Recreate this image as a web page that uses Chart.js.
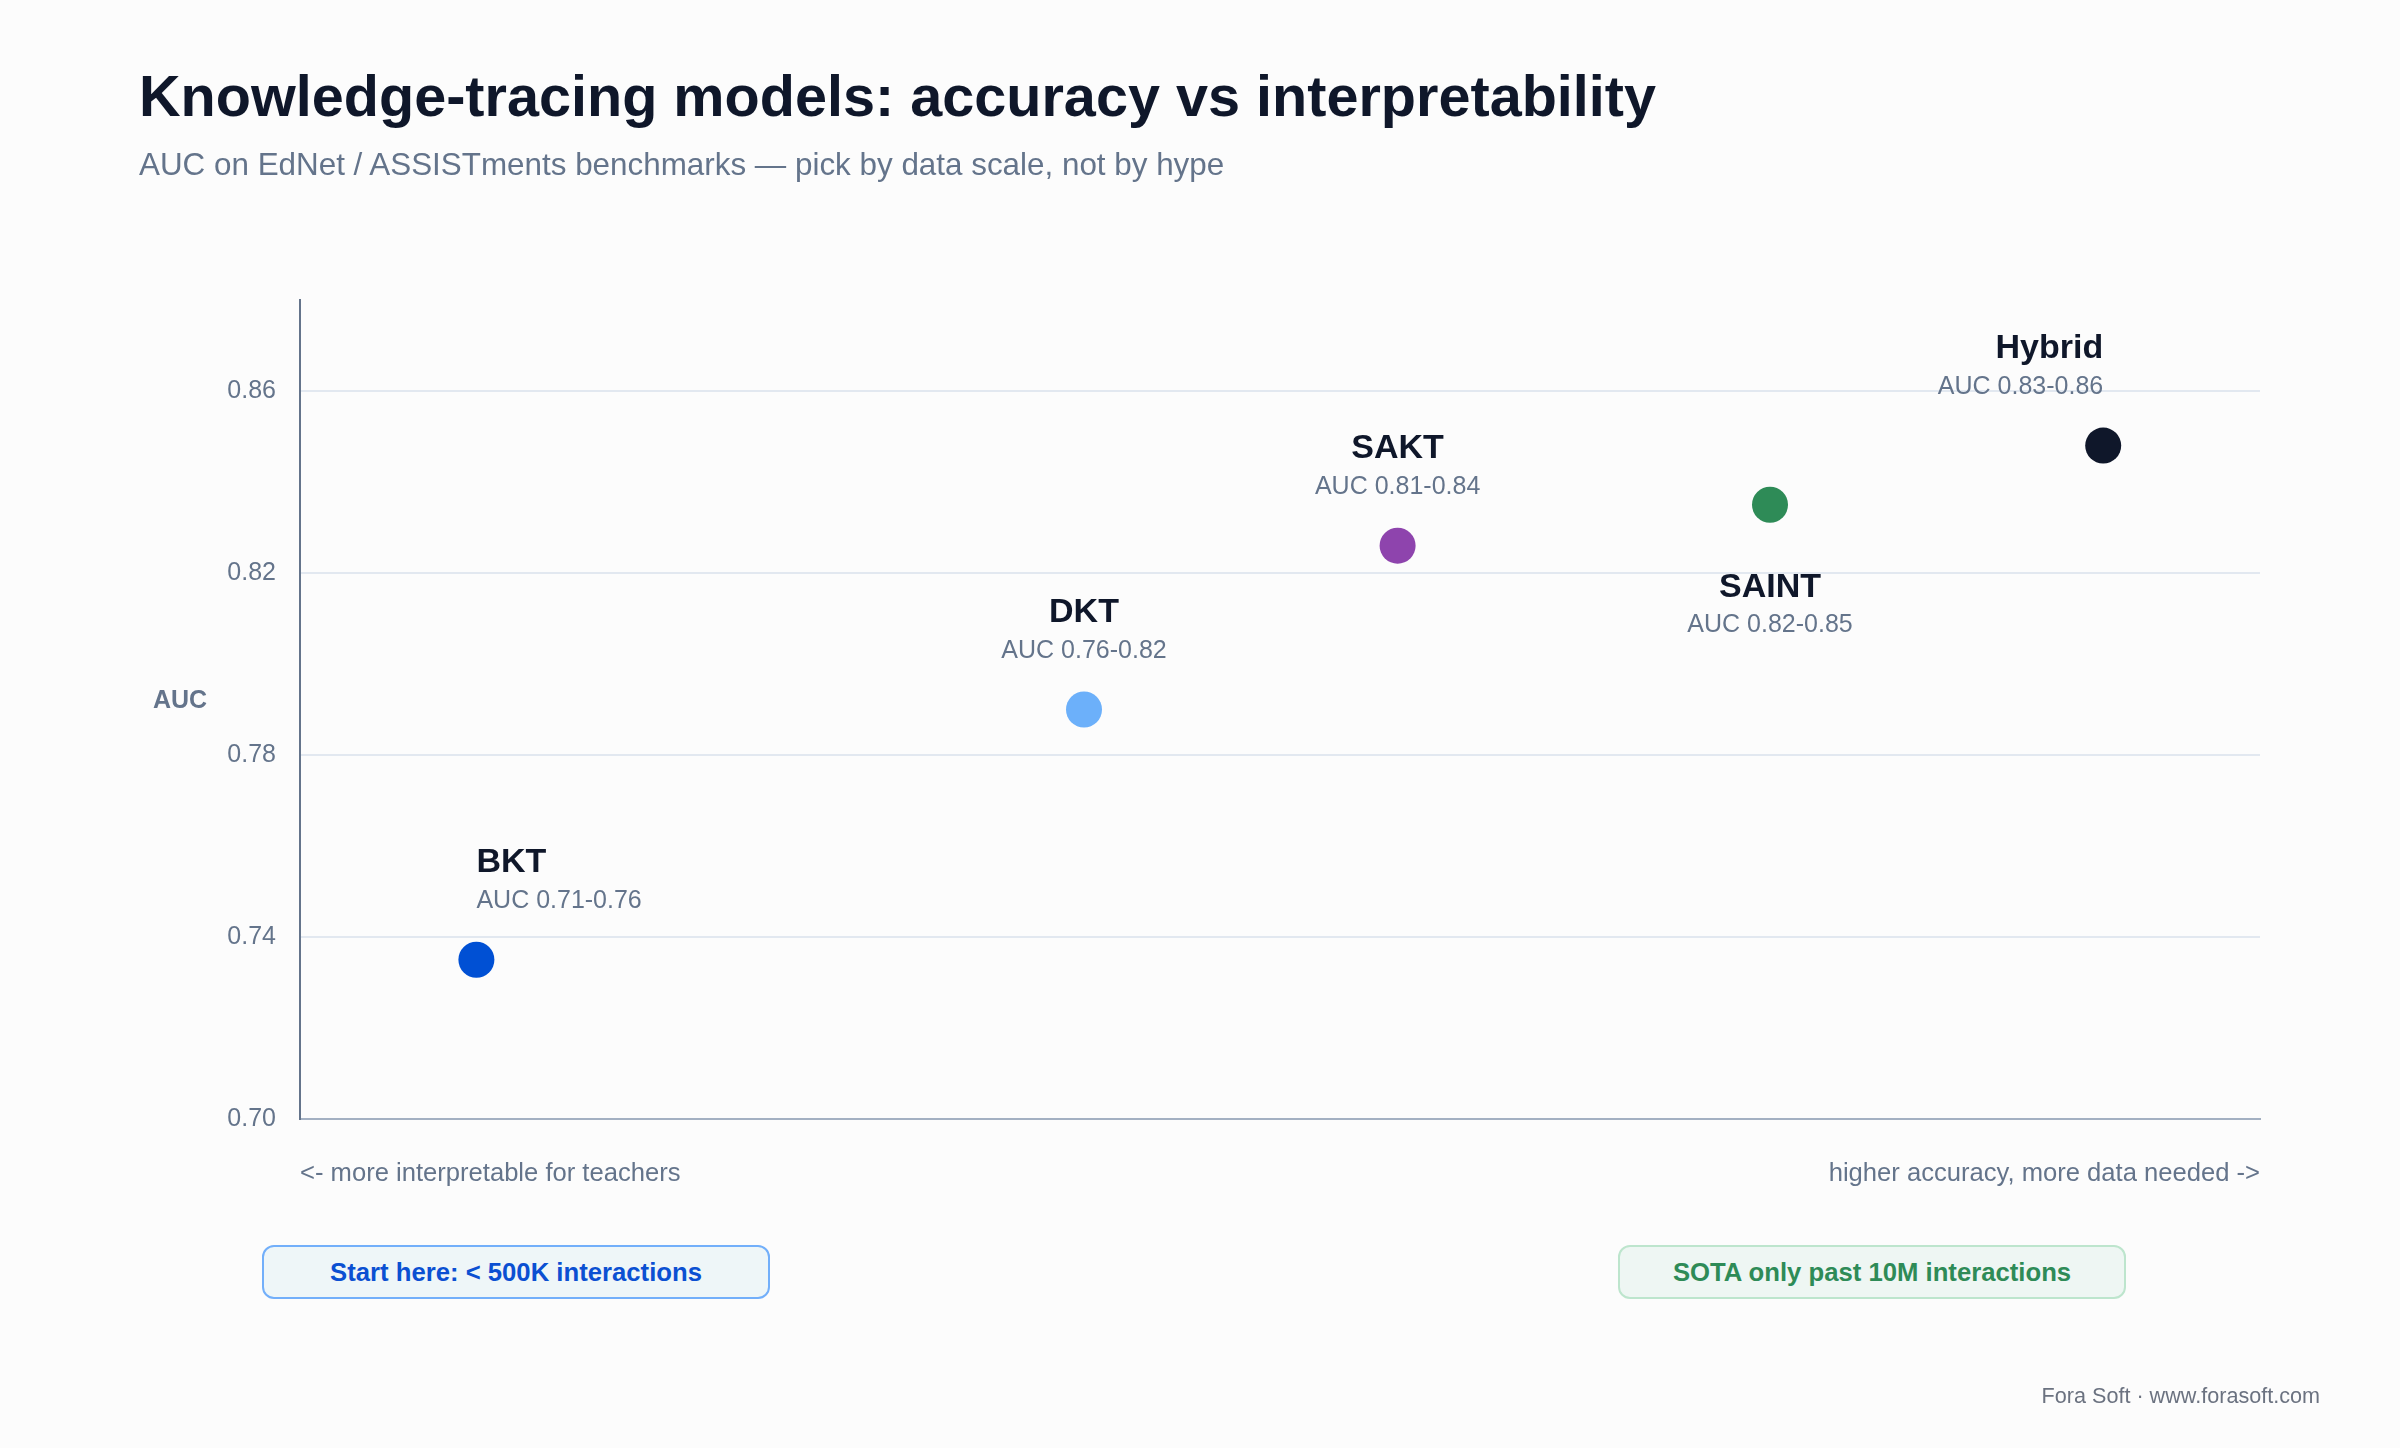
<!DOCTYPE html>
<html>
<head>
<meta charset="utf-8">
<title>Knowledge-tracing models: accuracy vs interpretability</title>
<script src="https://cdn.jsdelivr.net/npm/chart.js@4.4.1/dist/chart.umd.min.js"></script>
<style>
  body { margin: 0; background: #fcfcfc; font-family: "Liberation Sans", Arial, sans-serif; }
  #page { position: relative; width: 2400px; height: 1448px; overflow: hidden; }
  #chart { position: absolute; left: 0; top: 0; }
  .title { position: absolute; left: 139px; top: 68px; margin: 0; font-size: 57.6px; line-height: 1; font-weight: bold; color: #0f172a; white-space: nowrap; }
  .subtitle { position: absolute; left: 139px; top: 149px; margin: 0; font-size: 31.4px; line-height: 1; color: #64748b; white-space: nowrap; }
  .badge { position: absolute; top: 1245px; width: 508px; height: 54px; box-sizing: border-box; border-radius: 12px;
           border: 2px solid; display: flex; align-items: center; justify-content: center; font-size: 25.7px; font-weight: bold; }
  .badge.start { left: 262px; border-color: #72affa; background: #eef6f8; color: #0b50d2; }
  .badge.sota { left: 1618px; border-color: #bde5cd; background: #eef6f3; color: #2e8b57; }
  .footer { position: absolute; right: 80px; top: 1385px; font-size: 21.6px; line-height: 1; color: #6b7280; white-space: nowrap; }
</style>
</head>
<body>
<div id="page">
  <canvas id="chart" width="2400" height="1448"></canvas>
  <h1 class="title">Knowledge-tracing models: accuracy vs interpretability</h1>
  <p class="subtitle">AUC on EdNet / ASSISTments benchmarks — pick by data scale, not by hype</p>
  <div class="badge start">Start here: &lt; 500K interactions</div>
  <div class="badge sota">SOTA only past 10M interactions</div>
  <div class="footer">Fora Soft · www.forasoft.com</div>
</div>
<script>
// Models, left (interpretable) to right (accurate, data hungry)
const models = ["BKT", "DKT", "SAKT", "SAINT", "Hybrid"];
const aucRanges = ["AUC 0.71-0.76", "AUC 0.76-0.82", "AUC 0.81-0.84", "AUC 0.82-0.85", "AUC 0.83-0.86"];
const dataScale = [9, 40, 56, 75, 92];
const auc = [0.735, 0.79, 0.826, 0.835, 0.848];
const yTicks = [0.70, 0.74, 0.78, 0.82, 0.86];
const xEndLabels = ["<- more interpretable for teachers", "higher accuracy, more data needed ->"];

const pointColors = ["#0050d4", "#6cb0fa", "#8e44ad", "#2e8b57", "#0f172a"];
const labelAlign = ["left", "center", "center", "center", "right"];
const labelBelow = [false, false, false, true, false];

Chart.defaults.font.family = '"Liberation Sans", Arial, sans-serif';

// name + AUC range next to each point, and the horizontal "AUC" axis title
const pointLabels = {
  id: "pointLabels",
  afterDatasetsDraw(chart) {
    const ctx = chart.ctx;
    const pts = chart.getDatasetMeta(0).data;
    ctx.save();
    ctx.textBaseline = "alphabetic";
    pts.forEach(function(p, i) {
      const below = labelBelow[i];
      ctx.textAlign = labelAlign[i];
      ctx.fillStyle = "#0f172a";
      ctx.font = 'bold 34px "Liberation Sans", Arial, sans-serif';
      ctx.fillText(models[i], p.x, below ? p.y + 92 : p.y - 88);
      ctx.fillStyle = "#64748b";
      ctx.font = '25px "Liberation Sans", Arial, sans-serif';
      ctx.fillText(aucRanges[i], p.x, below ? p.y + 127 : p.y - 52);
    });
    const area = chart.chartArea;
    ctx.textAlign = "center";
    ctx.textBaseline = "middle";
    ctx.fillStyle = "#64748b";
    ctx.font = 'bold 25px "Liberation Sans", Arial, sans-serif';
    ctx.fillText("AUC", 180, (area.top + area.bottom) / 2 - 8);
    ctx.restore();
  }
};

var ctx = document.getElementById("chart").getContext("2d");
var ktChart = new Chart(ctx, {
  type: "scatter",
  data: {
    datasets: [{
      label: "AUC",
      data: dataScale.map(function(x, i) { return { x: x, y: auc[i] }; }),
      backgroundColor: pointColors,
      borderWidth: 0,
      pointRadius: 18,
      pointHoverRadius: 18
    }]
  },
  options: {
    responsive: false,
    devicePixelRatio: 1,
    animation: false,
    events: [],
    layout: { padding: { top: 300, left: 0, right: 140, bottom: 229 } },
    plugins: {
      legend: { display: false },
      tooltip: { enabled: false }
    },
    scales: {
      x: {
        type: "linear",
        min: 0,
        max: 100,
        afterBuildTicks: function(s) { s.ticks = [{ value: 0 }, { value: 100 }]; },
        afterFit: function(s) { s.height = 100; },
        ticks: {
          align: "inner",
          maxRotation: 0,
          autoSkip: false,
          padding: 40,
          color: "#64748b",
          font: { size: 25.6 },
          callback: function(v, i) { return xEndLabels[i]; }
        },
        grid: { display: false, drawTicks: false },
        border: { display: true, color: "#a3b0c2", width: 2 }
      },
      y: {
        type: "linear",
        min: 0.70,
        max: 0.88,
        afterBuildTicks: function(s) { s.ticks = yTicks.map(function(v) { return { value: v }; }); },
        afterFit: function(s) { s.width = 300; },
        ticks: {
          padding: 24,
          color: "#64748b",
          font: { size: 25 },
          callback: function(v) { return v.toFixed(2); }
        },
        grid: { color: "#e2e8f0", lineWidth: 2, drawTicks: false },
        border: { color: "#64748b", width: 2 }
      }
    }
  },
  plugins: [pointLabels]
});
</script>
</body>
</html>
